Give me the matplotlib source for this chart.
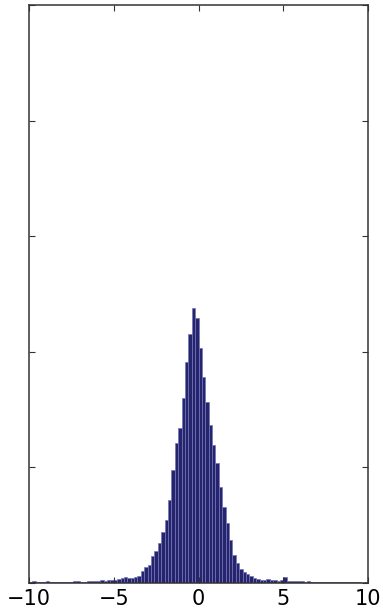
import numpy as np
import matplotlib
matplotlib.use("Agg")
import matplotlib.pyplot as plt

# Histogram bins: 100 bins of width 0.2 spanning [-10, 10]
bin_lo, bin_hi, n_bins = -10.0, 10.0, 100
bin_edges = np.linspace(bin_lo, bin_hi, n_bins + 1)

# Counts per bin (left tail, core, right tail)
left_tail = [10, 15, 8, 12, 10, 14, 9, 11, 8, 13,
             10, 12, 9, 14, 16, 12, 11, 15, 18, 20,
             17, 22, 19, 25, 28, 30, 38, 45, 50, 42]
core = [43, 52, 61, 104, 138, 156, 234, 277, 346, 441,
        545, 718, 977, 1211, 1341, 1600, 1912, 2154, 2379, 2292,
        2033, 1782, 1566, 1367, 1194, 1038, 830, 657, 519, 372,
        242, 173, 121, 95, 78, 61, 43]
right_tail = [35, 30, 28, 32, 25, 22, 20, 24, 55, 20,
              18, 15, 17, 14, 12, 15, 10, 12, 9, 11,
              13, 8, 10, 7, 9, 6, 8, 10, 5, 7,
              6, 4, 5]
counts = np.array(left_tail + core + right_tail, dtype=float)

x_ticks = [-10, -5, 0, 5, 10]
y_ticks = [0, 1000, 2000, 3000, 4000, 5000]

fig = plt.figure(figsize=(3.83, 6.13), dpi=100)
ax = fig.add_axes([0.0757, 0.0489, 0.961 - 0.0757, 0.9918 - 0.0489])

ax.bar(bin_edges[:-1], counts, width=np.diff(bin_edges), align="edge",
       facecolor="#25256e", edgecolor="#7474b8", linewidth=0.5)

ax.set_xlim(bin_lo, bin_hi)
ax.set_ylim(y_ticks[0], y_ticks[-1])
ax.set_xticks(x_ticks)
ax.set_xticklabels(["\u221210", "\u22125", "0", "5", "10"])
ax.set_yticks(y_ticks)
ax.set_yticklabels([])

ax.tick_params(direction="in", length=4.5, width=0.8, color="#333333",
               top=True, right=True, labelsize=15, pad=4)
for sp in ax.spines.values():
    sp.set_linewidth(1.1)
    sp.set_color("#333333")

fig.savefig("out.png", dpi=100)
